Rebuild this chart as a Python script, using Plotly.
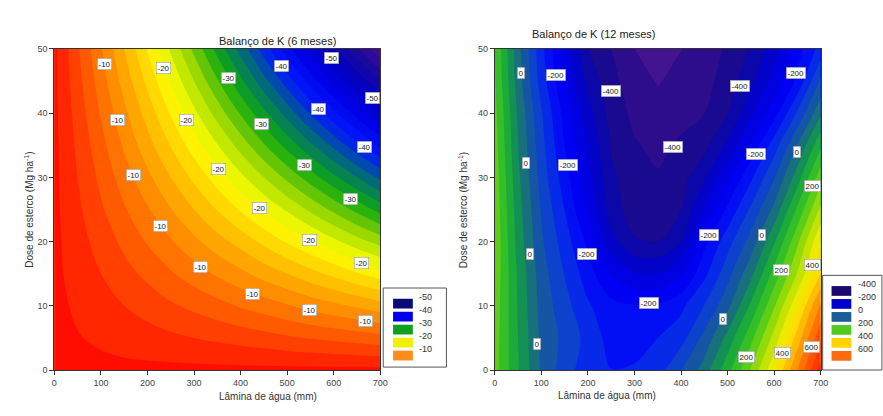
import plotly.graph_objects as go

W, H = 883, 416

# Grid of Lâmina de água (mm) and Dose de esterco (Mg/ha)
x_vals = [0, 50, 100, 150, 200, 250, 300, 350, 400, 450, 500, 550, 600, 650, 700]
y_vals = [0, 5, 10, 15, 20, 25, 30, 35, 40, 45, 50]

# Balanço de K (6 meses), rows = y_vals, columns = x_vals
z6 = [
    [-1.5, -1.5, -1.5, -1.5, -1.5, -1.5, -1.5, -1.5, -1.5, -1.5, -1.5, -1.5, -1.5, -1.5, -1.5],
    [-1.5, -1.9, -2.3, -2.8, -3.2, -3.6, -4.0, -4.4, -4.8, -5.2, -5.7, -6.1, -6.5, -6.9, -7.3],
    [-1.5, -2.3, -3.2, -4.0, -4.8, -5.7, -6.5, -7.3, -8.2, -9.0, -9.8, -10.7, -11.5, -12.3, -13.2],
    [-1.5, -2.8, -4.0, -5.3, -6.5, -7.8, -9.0, -10.3, -11.5, -12.8, -14.0, -15.3, -16.5, -17.8, -19.0],
    [-1.5, -3.2, -4.8, -6.5, -8.2, -9.8, -11.5, -13.2, -14.8, -16.5, -18.2, -19.8, -21.5, -23.2, -24.8],
    [-1.5, -3.6, -5.7, -7.8, -9.8, -11.9, -14.0, -16.1, -18.2, -20.3, -22.3, -24.4, -26.5, -28.6, -30.7],
    [-1.5, -4.0, -6.5, -9.0, -11.5, -14.0, -16.5, -19.0, -21.5, -24.0, -26.5, -29.0, -31.5, -34.0, -36.5],
    [-1.5, -4.4, -7.3, -10.3, -13.2, -16.1, -19.0, -21.9, -24.8, -27.8, -30.7, -33.6, -36.5, -39.4, -42.3],
    [-1.5, -4.8, -8.2, -11.5, -14.8, -18.2, -21.5, -24.8, -28.2, -31.5, -34.8, -38.2, -41.5, -44.8, -48.2],
    [-1.5, -5.3, -9.0, -12.8, -16.5, -20.3, -24.0, -27.8, -31.5, -35.3, -39.0, -42.8, -46.5, -50.3, -54.0],
    [-1.5, -5.7, -9.8, -14.0, -18.2, -22.3, -26.5, -30.7, -34.8, -39.0, -43.2, -47.3, -51.5, -55.7, -59.8],
]

# Balanço de K (12 meses)
z12 = [
    [220, 104, -7, -78, -128, -149, -142, -120, -53, 22, 133, 254, 389, 551, 720],
    [225, 100, -11, -64, -117, -170, -180, -150, -120, -35, 67, 184, 319, 472, 640],
    [230, 95, -19, -81, -143, -185, -197, -193, -162, -99, -14, 109, 244, 391, 560],
    [235, 92, -27, -102, -177, -251, -295, -300, -260, -163, -69, 35, 168, 304, 450],
    [240, 80, -42, -125, -212, -332, -395, -400, -352, -214, -120, -30, 93, 239, 400],
    [235, 72, -54, -151, -259, -376, -423, -429, -400, -295, -190, -91, 12, 159, 310],
    [230, 61, -70, -178, -284, -389, -433, -445, -420, -360, -261, -160, -55, 75, 230],
    [222, 51, -82, -200, -305, -404, -445, -462, -442, -415, -340, -240, -125, 0, 140],
    [215, 42, -95, -218, -332, -418, -463, -483, -467, -450, -400, -310, -220, -93, 40],
    [205, 25, -121, -251, -366, -433, -481, -503, -487, -470, -424, -361, -280, -190, -40],
    [200, 18, -134, -272, -400, -450, -500, -522, -501, -480, -441, -395, -320, -220, -130],
]

x_ticks = [0, 100, 200, 300, 400, 500, 600, 700]
y_ticks = [0, 10, 20, 30, 40, 50]

cs6 = [
    [0.0, "#4a0a90"], [0.0833, "#1a0a9c"], [0.1667, "#0000c0"], [0.25, "#0000e8"],
    [0.3333, "#0018ff"], [0.4167, "#006a7a"],
    [0.5, "#10a810"], [0.5833, "#9ad800"], [0.6667, "#ffff00"], [0.75, "#ffc000"],
    [0.8333, "#ff8000"], [0.9167, "#ff4000"], [1.0, "#ff0000"],
]
cs12 = [
    [0.0, "#4c1894"], [0.0385, "#3a1090"], [0.0769, "#220a88"], [0.1154, "#120a98"],
    [0.1538, "#0404b8"], [0.1923, "#0000d8"], [0.2692, "#0000fa"], [0.3462, "#0838e0"],
    [0.4231, "#1a6090"], [0.5, "#10a040"], [0.5769, "#40c820"], [0.6538, "#b0e000"],
    [0.7308, "#ffee00"], [0.8077, "#ffaa00"], [0.8846, "#ff6000"], [1.0, "#ff1000"],
]

# Contour labels
lab6_x = [108, 235, 375, 488, 596, 683, 136, 284, 445, 568, 666, 170, 352, 537, 637, 441, 227, 547, 660, 314, 426, 547, 668]
lab6_y = [47.6, 47, 45.4, 47.3, 48.6, 42.4, 38.9, 38.9, 38.3, 40.6, 34.7, 30.4, 31.3, 31.9, 26.7, 25.2, 22.5, 20.2, 16.7, 16.1, 11.9, 9.3, 7.6]
lab6_t = ["-10", "-20", "-30", "-40", "-50", "-50", "-10", "-20", "-30", "-40", "-40", "-10", "-20", "-30", "-30", "-20", "-10", "-20", "-20", "-10", "-10", "-10", "-10"]

lab12_x = [57, 131, 250, 526, 647, 382, 560, 649, 683, 66, 157, 460, 573, 76, 199, 615, 683, 331, 490, 91, 541, 617, 681]
lab12_y = [46.2, 46, 43.5, 44.3, 46.3, 34.8, 33.6, 34, 28.7, 32.2, 31.9, 21.1, 21, 18, 18, 15.5, 16.3, 10.5, 7.9, 4, 2.1, 2.6, 3.6]
lab12_t = ["0", "-200", "-400", "-400", "-200", "-400", "-200", "0", "200", "0", "-200", "-200", "0", "0", "-200", "200", "400", "-200", "0", "0", "200", "400", "600"]

# Legends
leg6_levels = ["-50", "-40", "-30", "-20", "-10"]
leg6_colors = ["#0a0a78", "#0000f0", "#10a020", "#f0f000", "#ff8c1a"]
leg12_levels = ["-400", "-200", "0", "200", "400", "600"]
leg12_colors = ["#1c0a6e", "#0000cc", "#1a5f9a", "#50cc20", "#ffd200", "#ff6a10"]

font_family = "Liberation Sans, Arial, sans-serif"


def px_x(p):
    return p / W


def px_y(p):
    return 1 - p / H


fig = go.Figure()
fig.add_trace(go.Contour(
    x=x_vals, y=y_vals, z=z6, xaxis="x", yaxis="y",
    colorscale=cs6, zmin=-60, zmax=0, zauto=False, autocontour=False,
    contours=dict(start=-60, end=0, size=2, coloring="fill"),
    line=dict(width=0, smoothing=1.0), showscale=False, hoverinfo="skip",
))
fig.add_trace(go.Contour(
    x=x_vals, y=y_vals, z=z12, xaxis="x2", yaxis="y2",
    colorscale=cs12, zmin=-550, zmax=750, zauto=False, autocontour=False,
    contours=dict(start=-550, end=750, size=50, coloring="fill"),
    line=dict(width=0, smoothing=1.0), showscale=False, hoverinfo="skip",
))

axis_common = dict(
    showgrid=False, zeroline=False, showline=True, linecolor="#333", linewidth=1,
    mirror=True, ticks="outside", ticklen=4, tickcolor="#333",
    tickfont=dict(size=9, color="#444", family=font_family),
)
fig.update_layout(
    width=W, height=H, margin=dict(l=0, r=0, t=0, b=0),
    paper_bgcolor="white", plot_bgcolor="white", showlegend=False,
    font=dict(family=font_family),
    xaxis=dict(domain=[px_x(52), px_x(382)], range=[0, 700], tickvals=x_ticks, anchor="y", **axis_common),
    yaxis=dict(domain=[px_y(374), px_y(45)], range=[0, 50], tickvals=y_ticks, anchor="x", **axis_common),
    xaxis2=dict(domain=[px_x(498), px_x(828)], range=[0, 700], tickvals=x_ticks, anchor="y2", **axis_common),
    yaxis2=dict(domain=[px_y(374), px_y(45)], range=[0, 50], tickvals=y_ticks, anchor="x2", **axis_common),
)

ann = []
for xs, ys, ts, xr, yr in [(lab6_x, lab6_y, lab6_t, "x", "y"), (lab12_x, lab12_y, lab12_t, "x2", "y2")]:
    for a, b, t in zip(xs, ys, ts):
        ann.append(dict(x=a, y=b, xref=xr, yref=yr, text=t, showarrow=False,
                        font=dict(size=8, color="#222", family=font_family),
                        bgcolor="white", bordercolor="#888", borderwidth=0.5, borderpad=1))

title_font = dict(size=11, color="#222", family=font_family)
ann.append(dict(x=px_x(217), y=px_y(29), xref="paper", yref="paper", text="Balanço de K (6 meses)", showarrow=False, font=title_font))
ann.append(dict(x=px_x(663), y=px_y(22), xref="paper", yref="paper", text="Balanço de K (12 meses)", showarrow=False, font=title_font))
lab_font = dict(size=10, color="#333", family=font_family)
ann.append(dict(x=px_x(217), y=px_y(409), xref="paper", yref="paper", text="Lâmina de água (mm)", showarrow=False, font=lab_font))
ann.append(dict(x=px_x(663), y=px_y(408), xref="paper", yref="paper", text="Lâmina de água (mm)", showarrow=False, font=lab_font))
ann.append(dict(x=px_x(18), y=px_y(210), xref="paper", yref="paper", text="Dose de esterco (Mg ha<sup>-1</sup>)", textangle=-90, showarrow=False, font=lab_font))
ann.append(dict(x=px_x(466), y=px_y(210), xref="paper", yref="paper", text="Dose de esterco (Mg ha<sup>-1</sup>)", textangle=-90, showarrow=False, font=lab_font))

shapes = []
shapes.append(dict(type="rect", xref="paper", yref="paper", x0=px_x(385), x1=px_x(449), y0=px_y(371), y1=px_y(290), line=dict(color="#555", width=1), fillcolor="white"))
shapes.append(dict(type="rect", xref="paper", yref="paper", x0=px_x(830), x1=px_x(890), y0=px_y(374), y1=px_y(277), line=dict(color="#555", width=1), fillcolor="white"))
for i, (lv, col) in enumerate(zip(leg6_levels, leg6_colors)):
    cy = 306 + 13.3 * i
    shapes.append(dict(type="rect", xref="paper", yref="paper", x0=px_x(395), x1=px_x(415), y0=px_y(cy + 5), y1=px_y(cy - 5), line=dict(width=0), fillcolor=col))
    ann.append(dict(x=px_x(419), y=px_y(cy), xref="paper", yref="paper", text=lv, showarrow=False, xanchor="left", font=dict(size=9, color="#333", family=font_family)))
for i, (lv, col) in enumerate(zip(leg12_levels, leg12_colors)):
    cy = 293 + 13.3 * i
    shapes.append(dict(type="rect", xref="paper", yref="paper", x0=px_x(839), x1=px_x(859), y0=px_y(cy + 5), y1=px_y(cy - 5), line=dict(width=0), fillcolor=col))
    ann.append(dict(x=px_x(864), y=px_y(cy), xref="paper", yref="paper", text=lv, showarrow=False, xanchor="left", font=dict(size=9, color="#333", family=font_family)))

fig.update_layout(annotations=ann, shapes=shapes)
fig.write_html("out.html")
